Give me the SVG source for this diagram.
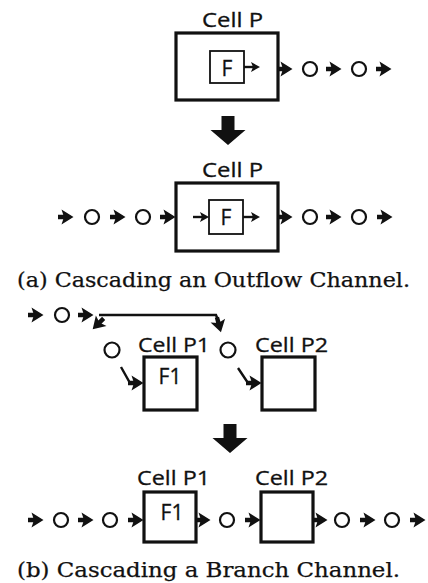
<svg xmlns="http://www.w3.org/2000/svg" xmlns:xlink="http://www.w3.org/1999/xlink" width="428" height="583" viewBox="0 0 428 583">
<style>
.cell{fill:none;stroke:#111;stroke-width:3.2}
.fbox{fill:none;stroke:#111;stroke-width:1.8}
.tok{fill:none;stroke:#111;stroke-width:2.2}
.ln{fill:none;stroke:#111;stroke-width:2.4}
.lbl{font-family:"Open Sans","Noto Sans",sans-serif;font-size:20px;fill:#111;stroke:#111;stroke-width:0.3}
.fn{font-family:"Open Sans","Noto Sans",sans-serif;font-size:21px;fill:#111;text-anchor:middle;stroke:#111;stroke-width:0.3}
.cap{font-family:"DejaVu Serif","Liberation Serif",serif;font-size:19.5px;fill:#111;stroke:#111;stroke-width:0.25}
</style>
<defs>
<path id="ah" d="M-8,-2.2 H-2 V2.2 H-8 Z M-4.5,-7.5 L7.5,0 L-4.5,7.5 L-2,0 Z" fill="#111"/>
<path id="sh" d="M-4,-5 L5,0 L-4,5 L-2,0 Z" fill="#111"/>
<path id="down" d="M-6.5,0 H6.5 V14 H17.5 L0,29 L-17.5,14 H-6.5 Z" fill="#111"/>
</defs>
<rect width="428" height="583" fill="#fff"/>

<!-- (a) before -->
<g id="cellP_a1">
<text class="lbl" x="202" y="27" textLength="61" lengthAdjust="spacingAndGlyphs">Cell P</text>
<rect class="cell" x="176" y="33" width="102" height="67"/>
</g>
<g id="F_a1">
<rect class="fbox" x="210" y="51" width="34" height="32"/>
<text class="fn" x="227" y="76">F</text>
</g>
<g id="tokens_a1">
<circle class="tok" cx="310" cy="69" r="7"/>
<circle class="tok" cx="359" cy="69" r="7"/>
</g>

<g id="transform_arrow_a">
<use xlink:href="#down" x="228" y="116"/>
</g>

<!-- (a) after -->
<g id="cellP_a2">
<text class="lbl" x="202" y="177" textLength="61" lengthAdjust="spacingAndGlyphs">Cell P</text>
<rect class="cell" x="176" y="183" width="102" height="68"/>
</g>
<g id="F_a2">
<rect class="fbox" x="209" y="200" width="34" height="34"/>
<text class="fn" x="226" y="225">F</text>
</g>
<g id="tokens_a2">
<circle class="tok" cx="92" cy="217" r="7"/>
<circle class="tok" cx="143" cy="217" r="7"/>
<circle class="tok" cx="310" cy="217" r="7"/>
<circle class="tok" cx="359" cy="217" r="7"/>
</g>

<text id="caption_a" class="cap" x="17" y="287" textLength="393" lengthAdjust="spacingAndGlyphs">(a) Cascading an Outflow Channel.</text>

<!-- (b) before -->
<g id="tokens_b1">
<circle class="tok" cx="62" cy="315" r="7"/>
<circle class="tok" cx="112" cy="350" r="7.5"/>
<circle class="tok" cx="228" cy="350" r="7.5"/>
</g>
<g id="cellP1_b1">
<text class="lbl" x="138" y="352" textLength="72" lengthAdjust="spacingAndGlyphs">Cell P1</text>
<rect class="cell" x="144" y="357" width="53" height="53"/>
<text class="fn" x="170" y="384">F1</text>
</g>
<g id="cellP2_b1">
<text class="lbl" x="255" y="352" textLength="73" lengthAdjust="spacingAndGlyphs">Cell P2</text>
<rect class="cell" x="262" y="357" width="53" height="53"/>
</g>

<g id="transform_arrow_b">
<use xlink:href="#down" x="230" y="424"/>
</g>

<!-- (b) after -->
<g id="cellP1_b2">
<text class="lbl" x="137" y="485" textLength="73" lengthAdjust="spacingAndGlyphs">Cell P1</text>
<rect class="cell" x="144" y="492" width="52" height="50"/>
<text class="fn" x="172" y="520">F1</text>
</g>
<g id="cellP2_b2">
<text class="lbl" x="255" y="485" textLength="73" lengthAdjust="spacingAndGlyphs">Cell P2</text>
<rect class="cell" x="261" y="492" width="52" height="50"/>
</g>
<g id="tokens_b2">
<circle class="tok" cx="61" cy="520" r="7"/>
<circle class="tok" cx="110" cy="520" r="7"/>
<circle class="tok" cx="227" cy="520" r="7"/>
<circle class="tok" cx="342" cy="520" r="7"/>
<circle class="tok" cx="392" cy="520" r="7"/>
</g>

<text id="caption_b" class="cap" x="17" y="577" textLength="383" lengthAdjust="spacingAndGlyphs">(b) Cascading a Branch Channel.</text>

<g id="connectors">
<!-- (a) before -->
<line class="ln" x1="244" y1="67" x2="253" y2="67" stroke-width="1.8"/>
<use xlink:href="#sh" x="255" y="67"/>
<use xlink:href="#ah" x="285" y="69"/>
<use xlink:href="#ah" x="334" y="69"/>
<use xlink:href="#ah" x="384" y="69"/>
<!-- (a) after -->
<use xlink:href="#ah" x="66" y="217"/>
<use xlink:href="#ah" x="118" y="217"/>
<use xlink:href="#ah" x="168" y="217"/>
<line class="ln" x1="193" y1="217" x2="203" y2="217" stroke-width="1.8"/>
<use xlink:href="#sh" x="204" y="217"/>
<line class="ln" x1="243" y1="217" x2="253" y2="217" stroke-width="1.8"/>
<use xlink:href="#sh" x="255" y="217"/>
<use xlink:href="#ah" x="285" y="217"/>
<use xlink:href="#ah" x="334" y="217"/>
<use xlink:href="#ah" x="385" y="217"/>
<!-- (b) before -->
<use xlink:href="#ah" x="36" y="315"/>
<use xlink:href="#ah" x="86" y="315"/>
<path class="ln" d="M99,315 H216 L218,320" stroke-width="2.8"/>
<use xlink:href="#ah" transform="translate(219,325) rotate(75)"/>
<use xlink:href="#ah" transform="translate(98,324) rotate(135)"/>
<path class="ln" d="M121,367 L130,383 H136"/>
<use xlink:href="#ah" x="136" y="383"/>
<path class="ln" d="M238,368 L248,383 H253"/>
<use xlink:href="#ah" x="254" y="383"/>
<!-- (b) after -->
<use xlink:href="#ah" x="36" y="520"/>
<use xlink:href="#ah" x="86" y="520"/>
<use xlink:href="#ah" x="136" y="520"/>
<use xlink:href="#ah" x="203" y="520"/>
<use xlink:href="#ah" x="253" y="520"/>
<use xlink:href="#ah" x="320" y="520"/>
<use xlink:href="#ah" x="368" y="520"/>
<use xlink:href="#ah" x="418" y="520"/>
</g>
</svg>
